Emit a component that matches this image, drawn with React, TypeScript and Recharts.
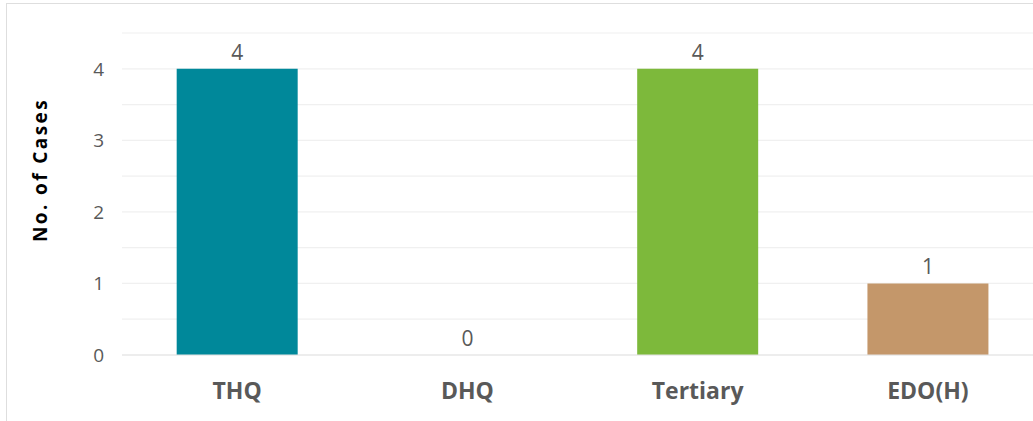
import { BarChart, Bar, XAxis, YAxis, CartesianGrid, Cell, LabelList } from "recharts";

const categories = ["THQ", "DHQ", "Tertiary", "EDO(H)"];
const cases = [4, 0, 4, 1];
const barColors = ["#00889A", "#00889A", "#7DB93B", "#C4976A"];
const yTicks = [0, 0.5, 1, 1.5, 2, 2.5, 3, 3.5, 4, 4.5];

const data = categories.map((name, i) => ({ name, cases: cases[i] }));

const textColor = "#595959";
const font = "'Open Sans', Calibri, sans-serif";

const YTitle = () => (
  <text
    x={40}
    y={170}
    transform="rotate(-90 40 170)"
    textAnchor="middle"
    dominantBaseline="central"
    fill="#000"
    fontSize={19}
    fontWeight={700}
    letterSpacing={2.4}
    fontFamily={font}
  >
    No. of Cases
  </text>
);

// drawn by hand so the zero bar still gets its label
const ValueLabel = (props: any) => {
  const { x, y, width, height, value } = props;
  if (x == null || y == null) return null;
  const top = Math.min(Number(y), Number(y) + Number(height || 0));
  return (
    <text
      x={Number(x) + Number(width) / 2}
      y={top - 9}
      textAnchor="middle"
      fill={textColor}
      fontSize={21}
      fontFamily={font}
    >
      {value}
    </text>
  );
};

const App = () => {
  return (
    <div
      style={{
        position: "absolute",
        left: 0,
        top: 0,
        width: 1033,
        height: 421,
        overflow: "hidden",
        background: "#fff",
      }}
    >
      <div
        style={{
          position: "absolute",
          left: 6,
          top: 3,
          width: 1060,
          height: 440,
          border: "1px solid #dedede",
        }}
      />
      <div style={{ position: "absolute", left: 0, top: 0 }}>
        <BarChart
          width={1050}
          height={421}
          data={data}
          margin={{ top: 33, right: 7, bottom: 16, left: 0 }}
          barCategoryGap="23.75%"
        >
          <CartesianGrid vertical={false} stroke="#f0f0f0" strokeWidth={1.2} />
          <XAxis
            dataKey="name"
            height={50}
            axisLine={{ stroke: "#e3e3e3", strokeWidth: 1.2 }}
            tickLine={false}
            tickMargin={22}
            tick={{ fill: textColor, fontSize: 23, fontWeight: 700, fontFamily: font }}
          />
          <YAxis
            width={122}
            domain={[0, 4.5]}
            ticks={yTicks}
            interval={0}
            axisLine={false}
            tickLine={false}
            tickSize={0}
            tickMargin={18}
            tickFormatter={(v: number) => (Number.isInteger(v) ? String(v) : "")}
            tick={{ fill: textColor, fontSize: 19, fontFamily: font }}
            label={<YTitle />}
          />
          <Bar
            dataKey="cases"
            isAnimationActive={false}
            minPointSize={(v: number) => (v === 0 ? 0.01 : 0)}
          >
            {data.map((d, i) => (
              <Cell
                key={`bar-${d.name}`}
                fill={d.cases === 0 ? "transparent" : barColors[i]}
              />
            ))}
            <LabelList dataKey="cases" content={ValueLabel} />
          </Bar>
        </BarChart>
      </div>
    </div>
  );
};

export default App;
